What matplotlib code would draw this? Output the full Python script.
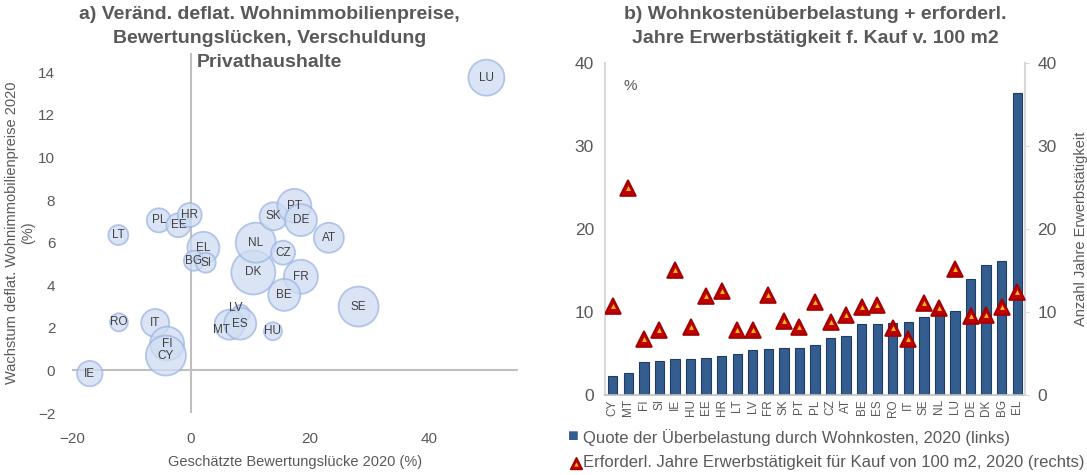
import numpy as np
import matplotlib
matplotlib.use('Agg')
import matplotlib.pyplot as plt

plt.rcParams['font.family'] = ['Liberation Sans', 'DejaVu Sans']

# a) Bubble chart: Bewertungslücke vs. Wachstum Wohnimmobilienpreise, Blasengröße = Verschuldung
laender_a = ['IE', 'RO', 'LT', 'PL', 'EE', 'HR', 'EL', 'BG', 'SI', 'IT', 'FI', 'CY',
             'LV', 'MT', 'ES', 'HU', 'DK', 'NL', 'CZ', 'FR', 'BE', 'SE', 'AT', 'SK',
             'PT', 'DE', 'LU']
bewertungsluecke = [-17.0, -12.1, -12.2, -5.4, -2.1, -0.2, 2.1, 0.5, 2.5, -6.0, -4.0, -4.2,
                    8.4, 6.5, 8.3, 13.8, 10.5, 10.9, 15.5, 18.5, 15.7, 28.2, 23.2, 13.9,
                    17.4, 18.5, 49.7]
preiswachstum = [-0.15, 2.26, 6.36, 7.05, 6.82, 7.30, 5.76, 5.15, 5.06, 2.23, 1.26, 0.70,
                 2.66, 2.15, 2.20, 1.84, 4.60, 6.00, 5.53, 4.40, 3.55, 3.00, 6.23, 7.24,
                 7.73, 7.06, 13.75]
verschuldung = [12.7, 9, 10, 12, 12, 12, 16, 10, 10, 14, 17, 20,
                9, 15, 16, 9, 22, 20, 12, 17, 16, 20, 15, 14,
                17, 16, 18]

# b) Wohnkostenüberbelastung und Jahre Erwerbstätigkeit
laender_b = ['CY', 'MT', 'FI', 'SI', 'IE', 'HU', 'EE', 'HR', 'LT', 'LV', 'FR', 'SK', 'PT', 'PL',
             'CZ', 'AT', 'BE', 'ES', 'RO', 'IT', 'SE', 'NL', 'LU', 'DE', 'DK', 'BG', 'EL']
ueberbelastung = [2.3, 2.7, 4.0, 4.1, 4.3, 4.3, 4.4, 4.7, 4.9, 5.4, 5.6, 5.7, 5.7, 6.0,
                  6.9, 7.1, 8.5, 8.5, 8.7, 8.8, 9.4, 9.9, 10.1, 14.0, 15.7, 16.2, 36.4]
jahre_kauf = [10.7, 24.9, 6.7, 7.8, 15.1, 8.2, 11.9, 12.5, 7.8, 7.8, 12.1, 8.9, 8.2, 11.2,
              8.8, 9.6, 10.6, 10.9, 8.1, 6.7, 11.1, 10.5, 15.2, 9.5, 9.6, 10.6, 12.4]

grau = '#595959'
fig = plt.figure(figsize=(10.87, 4.75), dpi=100)

# ---------- a) ----------
ax1 = fig.add_axes([0.0662, 0.1305, 0.4103, 0.7575])
groesse = (2 * np.array(verschuldung) * 0.72) ** 2
ax1.scatter(bewertungsluecke, preiswachstum, s=groesse, facecolor='#cfdcf2',
            edgecolor='#9db6e4', linewidth=1.3, alpha=0.75, zorder=3)
label_offset = {'LV': (-4, 4), 'MT': (-6, -4)}
for name, x, y in zip(laender_a, bewertungsluecke, preiswachstum):
    dx, dy = label_offset.get(name, (0, 0))
    ax1.annotate(name, (x, y), xytext=(dx, dy), textcoords='offset points',
                 ha='center', va='center', fontsize=8.5, color='#404040', zorder=4)
ax1.axhline(0, color='#bfbfbf', lw=1.5, zorder=1)
ax1.axvline(0, color='#bfbfbf', lw=1.5, zorder=1)
ax1.set_xlim(-20, 55)
ax1.set_ylim(-2, 14.9)
ax1.set_xticks([-20, 0, 20, 40])
ax1.set_yticks(np.arange(-2, 15, 2))
for s in ax1.spines.values():
    s.set_visible(False)
ax1.tick_params(length=0, labelsize=11, labelcolor=grau)
ax1.tick_params(axis='x', pad=14)
ax1.tick_params(axis='y', pad=12)
ax1.set_xlabel('Geschätzte Bewertungslücke 2020 (%)', fontsize=10.5, color=grau, labelpad=6)
ax1.set_ylabel('Wachstum deflat. Wohnimmobilienpreise 2020\n(%)', fontsize=10.5,
               color=grau, labelpad=2)
fig.text(0.248, 0.988, 'a) Veränd. deflat. Wohnimmobilienpreise,\nBewertungslücken, Verschuldung\nPrivathaushalte',
         ha='center', va='top', fontsize=14, fontweight='bold', color=grau, linespacing=1.55)

# ---------- b) ----------
ax2 = fig.add_axes([0.5566, 0.1684, 0.3864, 0.6989])
xpos = np.arange(len(laender_b))
ax2.bar(xpos, ueberbelastung, width=0.6, color='#345d8f', edgecolor='#1f3c66',
        linewidth=0.8, zorder=2)
ax2.set_xlim(-0.5, len(laender_b) - 0.5)
ax2.set_ylim(0, 40)
ax2.set_yticks([0, 10, 20, 30, 40])
ax2.set_xticks(xpos)
ax2.set_xticklabels(laender_b, rotation=90, fontsize=8.5, color=grau)
ax2.tick_params(axis='y', length=0, labelsize=12.5, labelcolor=grau, pad=8)
ax2.tick_params(axis='x', length=0, pad=3)
for k in ['top', 'right']:
    ax2.spines[k].set_visible(False)
ax2.spines['left'].set_color('#d9d9d9')
ax2.spines['left'].set_linewidth(1.5)
ax2.spines['bottom'].set_color('#bfbfbf')
ax2.spines['bottom'].set_linewidth(1.2)
ax2.text(0.045, 0.93, '%', transform=ax2.transAxes, fontsize=11, color=grau, va='center')

ax3 = ax2.twinx()
ax3.set_ylim(0, 40)
ax3.set_yticks([0, 10, 20, 30, 40])
ax3.plot(xpos, jahre_kauf, linestyle='none', marker='^', markersize=11,
         markerfacecolor='#c00000', markeredgecolor='#a00000', markeredgewidth=1.2, zorder=3)
ax3.plot(xpos, jahre_kauf, linestyle='none', marker='^', markersize=3.5,
         markerfacecolor='#ffc000', markeredgecolor='none', zorder=4)
for k in ['top', 'left', 'bottom']:
    ax3.spines[k].set_visible(False)
ax3.spines['right'].set_color('#d9d9d9')
ax3.spines['right'].set_linewidth(1.5)
ax3.tick_params(axis='y', length=3, color='#d9d9d9', labelsize=12.5, labelcolor=grau, pad=6)
ax3.set_ylabel('Anzahl Jahre Erwerbstätigkeit', fontsize=10.5, color=grau, labelpad=12)

fig.text(0.75, 0.988, 'b) Wohnkostenüberbelastung + erforderl.\nJahre Erwerbstätigkeit f. Kauf v. 100 m2',
         ha='center', va='top', fontsize=14, fontweight='bold', color=grau, linespacing=1.55)

# Legende unterhalb
fig.text(0.5225, 0.080, '■', fontsize=13, color='#345d8f', va='center', ha='left')
fig.text(0.536, 0.079, 'Quote der Überbelastung durch Wohnkosten, 2020 (links)',
         fontsize=12, color=grau, va='center', ha='left')
fig.lines.append(plt.Line2D([0.530], [0.026], transform=fig.transFigure, marker='^',
                            markersize=9, markerfacecolor='#c00000', markeredgecolor='#a00000',
                            linestyle='none'))
fig.lines.append(plt.Line2D([0.530], [0.024], transform=fig.transFigure, marker='^',
                            markersize=3, markerfacecolor='#ffc000', markeredgecolor='none',
                            linestyle='none'))
fig.text(0.536, 0.026, 'Erforderl. Jahre Erwerbstätigkeit für Kauf von 100 m2, 2020 (rechts)',
         fontsize=12, color=grau, va='center', ha='left')

fig.savefig('out.png', dpi=100)
